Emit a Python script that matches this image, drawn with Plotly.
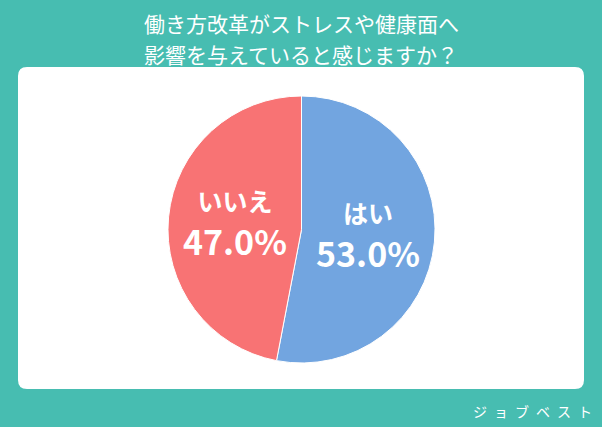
import plotly.graph_objects as go

labels = ["はい", "いいえ"]
values = [53.0, 47.0]
colors = ["#72A5E0", "#F87374"]

title_lines = ["働き方改革がストレスや健康面へ", "影響を与えていると感じますか？"]
brand = "\u2002".join("ジョブベスト")

W, H = 602, 427
FONT = "Noto Sans CJK JP"


def px(x, y):
    return x / W, 1 - y / H


def rounded_rect(x0, y0, x1, y1, r):
    # path in paper coords built from pixel corners
    corners = [
        ((x1 - r, y0), (x1, y0), (x1, y0 + r)),
        ((x1, y1 - r), (x1, y1), (x1 - r, y1)),
        ((x0 + r, y1), (x0, y1), (x0, y1 - r)),
        ((x0, y0 + r), (x0, y0), (x0 + r, y0)),
    ]
    a = px(x0 + r, y0)
    pts = [f"M{a[0]},{a[1]}"]
    for s, c, e in corners:
        s, c, e = px(*s), px(*c), px(*e)
        pts.append(f"L{s[0]},{s[1]}")
        pts.append(f"Q{c[0]},{c[1]} {e[0]},{e[1]}")
    pts.append("Z")
    return " ".join(pts)


fig = go.Figure()

fig.add_trace(go.Pie(
    labels=labels,
    values=values,
    sort=False,
    direction="clockwise",
    rotation=0,
    marker=dict(colors=colors, line=dict(color="#FFFFFF", width=1)),
    texttemplate="<span style='font-size:25px'>%{label}</span><br>%{value:.1f}%",
    textposition="inside",
    insidetextorientation="horizontal",
    textfont=dict(family=FONT, size=34, color="#FFFFFF", weight="bold"),
    hoverinfo="label+percent",
    domain=dict(x=[167 / W, 436 / W], y=[1 - 363 / H, 1 - 96 / H]),
    showlegend=False,
))

fig.add_shape(
    type="path", xref="paper", yref="paper",
    path=rounded_rect(18, 67, 584, 389, 9),
    fillcolor="#FFFFFF", line=dict(width=0), layer="below",
)

for i, line in enumerate(title_lines):
    fig.add_annotation(
        text=line, xref="paper", yref="paper",
        x=0.5, y=1 - (23 + 31 * i) / H, yanchor="middle", showarrow=False,
        font=dict(family=FONT, size=21, color="#FFFFFF"),
    )

fig.add_annotation(
    text=brand, xref="paper", yref="paper",
    x=594 / W, y=1 - 411 / H, xanchor="right", yanchor="middle", showarrow=False,
    font=dict(family=FONT, size=14, color="#FFFFFF"),
)

fig.update_layout(
    width=W, height=H,
    margin=dict(l=0, r=0, t=0, b=0),
    paper_bgcolor="#47BDB1",
    plot_bgcolor="#47BDB1",
)

fig.write_html(
    "out.html",
    config={"displayModeBar": False},
    post_script="document.body.style.margin='0';",
)
